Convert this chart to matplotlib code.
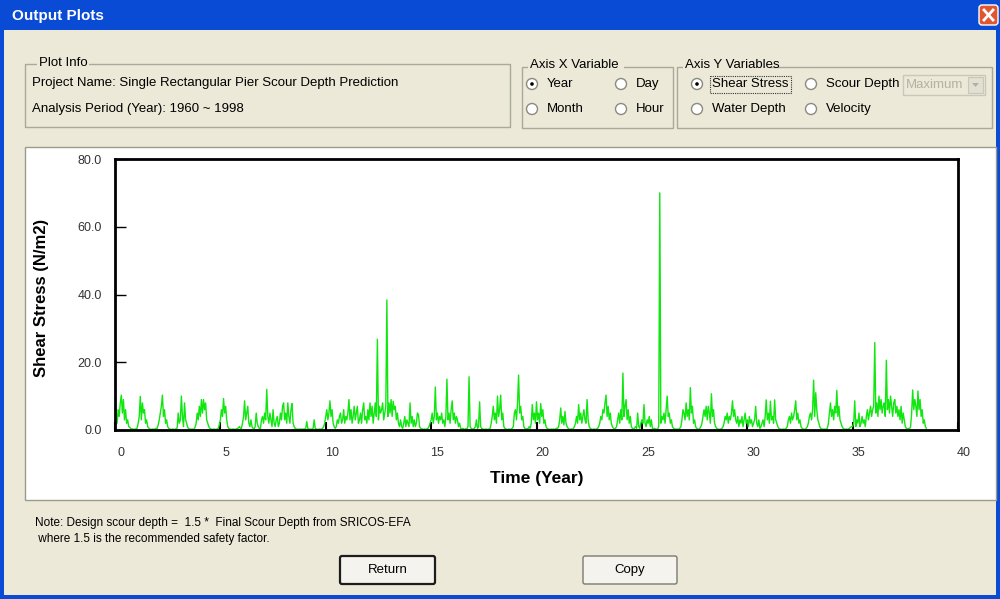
import numpy as np
import matplotlib
matplotlib.use("Agg")
import matplotlib.pyplot as plt
from matplotlib.patches import Rectangle, Circle, FancyBboxPatch
from matplotlib.transforms import ScaledTranslation
from matplotlib.colors import LinearSegmentedColormap

# ---------------- data ----------------
time_step_year = 0.05   # 20 readings per year
shear_by_year = [
    [3, 5, 2, 6, 4, 8, 10.3, 5, 9, 3, 6, 2, 3, 1, 0.8, 0.4, 0.3, 0.3, 0.2, 0.3],
    [0.3, 0.6, 2, 4, 9.9, 3, 8, 5, 6, 2, 3, 1, 0.6, 0.3, 0.2, 0.2, 0.3, 0.2, 0.3, 0.5],
    [0.5, 1.5, 3, 5, 7, 10.3, 4, 6, 2, 3, 1, 0.5, 0.3, 0.2, 0.2, 0.3, 0.2, 0.2, 0.4, 0.6],
    [5, 2, 3, 10, 4, 1, 8, 3, 2, 0.8, 0.4, 0.3, 0.2, 0.3, 0.2, 0.3, 0.8, 2, 5, 3],
    [7, 4, 9, 5, 9, 6, 8, 3, 2, 1, 0.5, 0.3, 0.2, 0.2, 0.3, 0.2, 0.2, 0.3, 0.5, 1.5],
    [3, 6, 4, 9.3, 5, 7, 3, 1, 0.5, 0.3, 0.2, 0.2, 0.3, 0.2, 0.2, 0.3, 0.4, 0.6, 1, 0.5],
    [0.5, 2, 4, 8.6, 3, 5, 7, 2, 1, 3, 1, 0.5, 0.3, 1, 5, 2, 1, 0.5, 0.3, 3],
    [4, 2, 5, 3, 12, 4, 2, 5, 3, 1, 6, 2, 1, 3, 4, 1, 2, 5, 3, 7],
    [8, 3, 5, 2, 8, 4, 2, 6, 7.8, 2, 1, 0.5, 0.3, 0.2, 0.2, 0.3, 0.2, 0.3, 0.2, 0.3],
    [0.3, 0.5, 2.5, 0.4, 0.3, 0.2, 0.3, 0.2, 0.5, 3, 0.5, 0.3, 0.2, 0.2, 0.3, 0.2, 0.3, 0.5, 1, 2],
    [4, 6, 3, 5, 8.6, 4, 6, 2, 1, 0.5, 1, 3, 2, 4, 5, 2, 3, 6, 2, 4],
    [3, 5, 9, 3, 6, 2, 4, 7, 3, 5, 7, 2, 3, 5, 2, 6, 8, 3, 4, 2],
    [6, 3, 8, 4, 7, 2, 5, 8, 4, 26.8, 3, 7, 5, 6, 8, 3, 5, 7, 38.4, 4],
    [8, 5, 9, 4, 8.5, 6, 7, 3, 5, 2, 1, 3, 1, 0.5, 2, 4, 1, 3, 2, 1],
    [8, 2, 4, 1, 3, 1, 2, 5, 4.5, 1, 0.5, 0.3, 0.3, 0.2, 0.3, 0.2, 0.3, 0.5, 1, 2],
    [3, 5, 2, 4, 12.7, 3, 5, 2, 4, 3, 5, 2, 3, 1, 4, 15, 3, 5, 2, 6],
    [8.6, 3, 5, 2, 4, 3, 1, 2, 0.5, 0.3, 0.5, 0.3, 0.2, 0.4, 0.3, 1, 15.7, 1, 0.5, 0.3],
    [0.3, 0.5, 1, 3, 0.5, 1, 8.3, 1, 0.5, 0.3, 0.2, 0.2, 0.3, 0.2, 0.2, 0.3, 0.5, 2, 4, 7],
    [3, 5, 2, 10, 4, 6, 10.3, 3, 5, 1, 0.5, 0.3, 0.2, 0.2, 0.3, 0.2, 0.3, 0.5, 1, 5],
    [6, 3, 8, 16.2, 5, 7, 3, 4, 1, 0.5, 0.3, 0.4, 0.3, 1, 0.5, 2, 7.5, 3, 5, 2],
    [8.3, 3, 5, 2, 7.8, 4, 6, 2, 3, 1, 0.5, 0.3, 0.2, 0.2, 0.3, 0.2, 0.3, 0.2, 0.3, 0.5],
    [0.5, 1, 3, 6.5, 2, 4, 1.5, 5.5, 2, 1, 0.5, 0.3, 0.2, 0.3, 0.2, 0.5, 1, 2, 4, 2],
    [7.5, 3, 5, 2, 4, 6, 3, 2, 9, 3, 1, 0.5, 0.3, 0.2, 0.2, 0.3, 0.2, 0.3, 0.5, 1],
    [2, 4, 3, 6, 5, 8, 10.3, 4, 7, 3, 5, 2, 1, 0.5, 0.3, 0.5, 1, 3, 5, 2],
    [6, 3, 16.8, 4, 7, 9, 3, 6, 2, 4, 1, 0.5, 0.3, 0.5, 1, 0.5, 5, 1, 0.5, 2],
    [3, 2, 7.5, 2, 1, 3, 2, 4, 1, 3, 0.5, 0.3, 0.5, 0.3, 0.2, 0.3, 1, 70, 2, 4],
    [3, 5, 2, 6, 10, 4, 5, 2, 3, 1, 0.5, 0.3, 0.2, 0.3, 0.2, 0.3, 0.5, 1, 3, 6],
    [5, 3, 8, 4, 6, 3, 12.5, 5, 7, 2, 3, 1, 0.5, 0.3, 0.2, 0.5, 1, 2, 4, 6],
    [4, 7, 3, 7, 5, 2, 10.7, 4, 6, 2, 1, 0.5, 0.3, 0.2, 0.2, 0.3, 0.5, 1, 2, 4],
    [3, 5, 2, 4, 3, 5, 8.6, 4, 6, 3, 2, 4, 1, 3, 2, 4, 1, 3, 5, 2],
    [3, 1, 4, 2, 3, 1, 2, 3, 7, 2, 1, 3, 0.5, 1, 2, 3, 1, 4, 8.9, 3],
    [5, 2, 8.5, 3, 4, 2, 8.9, 3, 2, 1, 0.5, 0.3, 0.2, 0.2, 0.3, 0.2, 0.3, 0.5, 1, 3],
    [4, 2, 5, 3, 4, 6, 8.6, 3, 5, 2, 3, 1, 0.5, 0.3, 0.2, 0.3, 0.5, 1, 2, 4],
    [5, 3, 6, 14.7, 4, 11, 6, 3, 2, 0.8, 0.4, 0.3, 0.2, 0.3, 0.2, 0.3, 0.5, 2, 5, 8],
    [4, 6, 3, 7, 5, 11.7, 4, 7, 3, 2, 1, 0.5, 0.3, 0.2, 0.3, 0.2, 0.3, 0.5, 0.8, 1],
    [1, 2, 8.6, 1, 3, 2, 5, 1, 2, 4, 2, 3, 1, 4, 6, 3, 5, 7, 4, 6],
    [7, 25.8, 5, 8, 4, 10, 6, 9, 5, 7, 8, 4, 20.6, 6, 9, 5, 10, 7, 4, 8],
    [9, 5, 7, 4, 6, 3, 7, 2, 5, 3, 1, 0.5, 0.3, 0.5, 0.3, 1, 5, 11.8, 6, 9],
    [7, 4, 11.5, 6, 9, 4, 6, 2, 3, 1, 0.5],
]
x_ticks = [0, 5, 10, 15, 20, 25, 30, 35, 40]
y_ticks = [0, 20, 40, 60, 80]
x_label = "Time (Year)"
y_label = "Shear Stress (N/m2)"
window_title = "Output Plots"
project_line = "Project Name: Single Rectangular Pier Scour Depth Prediction"
period_line = "Analysis Period (Year): 1960 ~ 1998"
note_lines = ["Note: Design scour depth =  1.5 *  Final Scour Depth from SRICOS-EFA",
              " where 1.5 is the recommended safety factor."]

shear = np.array([v for row in shear_by_year for v in row], dtype=float)
years = np.arange(len(shear)) * time_step_year

# ---------------- figure / dialog chrome ----------------
W, H = 1000, 599
fig = plt.figure(figsize=(W / 100, H / 100), dpi=100)
bg = fig.add_axes([0, 0, 1, 1])
bg.set_xlim(0, W)
bg.set_ylim(H, 0)
bg.axis("off")

FONT = "Liberation Sans"
BODY = "#ECE9D8"

def rect(x0, y0, x1, y1, fc="none", ec="none", lw=1, ls="-", z=1):
    bg.add_patch(Rectangle((x0, y0), x1 - x0, y1 - y0, facecolor=fc,
                           edgecolor=ec, lw=lw, ls=ls, zorder=z))

def txt(x, y, s, size=9.5, color="#000000", weight="normal", ha="left", va="center", z=5):
    bg.text(x, y, s, fontsize=size, color=color, fontweight=weight, ha=ha, va=va,
            family=FONT, zorder=z)

# window body and blue frame
rect(0, 0, W, H, fc="#0A4BD6")
rect(4, 30, 996, 595, fc=BODY)

# title bar gradient
grad = np.linspace(0, 1, 30).reshape(-1, 1)
cm = LinearSegmentedColormap.from_list("xp", ["#4D9BFA", "#0F63EA", "#0458E4", "#0553DE", "#0349CF"])
bg.imshow(grad, cmap=cm, extent=(0, W, 30, 0), aspect="auto", zorder=0.5)
txt(12, 16, window_title, size=11, color="white", weight="bold")

# close button
bg.add_patch(FancyBboxPatch((979, 5), 19, 20, boxstyle="round,pad=0,rounding_size=3",
                            facecolor="#E0562F", edgecolor="white", lw=1, zorder=3))
bg.plot([984, 993], [10, 20], color="white", lw=2, zorder=4)
bg.plot([984, 993], [20, 10], color="white", lw=2, zorder=4)

# group boxes
GB = "#A9A89A"
rect(25, 64, 510, 127, ec=GB, lw=1, z=2)
rect(37, 56, 89, 70, fc=BODY, z=3)
txt(39, 63, "Plot Info")
txt(32, 83, project_line)
txt(32, 109, period_line)

rect(522, 67, 673, 128, ec=GB, lw=1, z=2)
rect(528, 58, 624, 72, fc=BODY, z=3)
txt(530, 65, "Axis X Variable")

rect(677, 67, 992, 128, ec=GB, lw=1, z=2)
rect(683, 58, 770, 72, fc=BODY, z=3)
txt(685, 65, "Axis Y Variables")

def radio(cx, cy, label, selected=False):
    bg.add_patch(Circle((cx, cy), 5.5, facecolor="white", edgecolor="#8A8A80", lw=1, zorder=4))
    if selected:
        bg.add_patch(Circle((cx, cy), 1.8, facecolor="black", edgecolor="none", zorder=5))
    txt(cx + 15, cy, label)

radio(532, 84, "Year", True)
radio(621, 84, "Day")
radio(532, 109, "Month")
radio(621, 109, "Hour")
radio(697, 84, "Shear Stress", True)
radio(811, 84, "Scour Depth")
radio(697, 109, "Water Depth")
radio(811, 109, "Velocity")
rect(710, 76, 791, 93, ec="#333333", lw=0.8, ls=(0, (1, 1)), z=4)

# disabled combobox
rect(903, 75, 985, 95, fc=BODY, ec="#C9C7BA", lw=1, z=3)
txt(906, 85, "Maximum", color="#B4B1A3")
rect(968, 77, 983, 93, fc="#E2DFD3", ec="#C9C7BA", lw=0.8, z=4)
bg.add_patch(plt.Polygon([[972, 83], [979, 83], [975.5, 87]], closed=True,
                         facecolor="#B4B1A3", edgecolor="none", zorder=5))

# white plot panel
rect(25, 147, 996, 500, fc="white", ec="#9C9A8C", lw=1, z=1.5)

# note text
txt(35, 523, note_lines[0], size=8.5)
txt(35, 539, note_lines[1], size=8.5)

# buttons
def button(x0, y0, x1, y1, label, default=False):
    bg.add_patch(FancyBboxPatch((x0, y0), x1 - x0, y1 - y0,
                                boxstyle="round,pad=0,rounding_size=2",
                                facecolor="#F4F3EE", edgecolor="#1C1C1C" if default else "#7A7A70",
                                lw=1.6 if default else 1, zorder=3))
    txt((x0 + x1) / 2, (y0 + y1) / 2, label, ha="center")

button(340, 556, 435, 584, "Return", default=True)
button(583, 556, 677, 584, "Copy")

# ---------------- chart ----------------
L, R, T, B = 115, 958, 159, 430
ax = fig.add_axes([L / W, (H - B) / H, (R - L) / W, (B - T) / H])
ax.set_facecolor("white")
ax.plot(years, shear, color="#10E610", lw=1.0, zorder=3)
ax.set_xlim(0, 40)
ax.set_ylim(0, 80)
ax.set_xticks(x_ticks)
ax.set_xticklabels([str(v) for v in x_ticks])
ax.set_yticks(y_ticks)
ax.set_yticklabels(["%.1f" % v for v in y_ticks])
for s in ax.spines.values():
    s.set_linewidth(2)
    s.set_color("black")
    s.set_zorder(4)
ax.tick_params(axis="x", direction="in", length=6, width=1.5, pad=12.5,
               labelsize=9, labelcolor="#333333")
ax.tick_params(axis="y", direction="in", length=8, width=1, pad=9.5,
               labelsize=9, labelcolor="#333333")
offset = ScaledTranslation(6 / 100, 0, fig.dpi_scale_trans)
for lab in ax.get_xticklabels():
    lab.set_transform(lab.get_transform() + offset)
    lab.set_family(FONT)
for lab in ax.get_yticklabels():
    lab.set_family(FONT)
ax.set_xlabel(x_label, fontsize=12.5, fontweight="bold", family=FONT)
ax.set_ylabel(y_label, fontsize=12, fontweight="bold", family=FONT)
ax.xaxis.set_label_coords((537 - L) / (R - L), (B - 478) / (B - T))
ax.yaxis.set_label_coords((42 - L) / (R - L), (B - 298) / (B - T))
ax.xaxis.label.set_va("center")
ax.yaxis.label.set_va("center")

fig.savefig("out.png", dpi=100)
